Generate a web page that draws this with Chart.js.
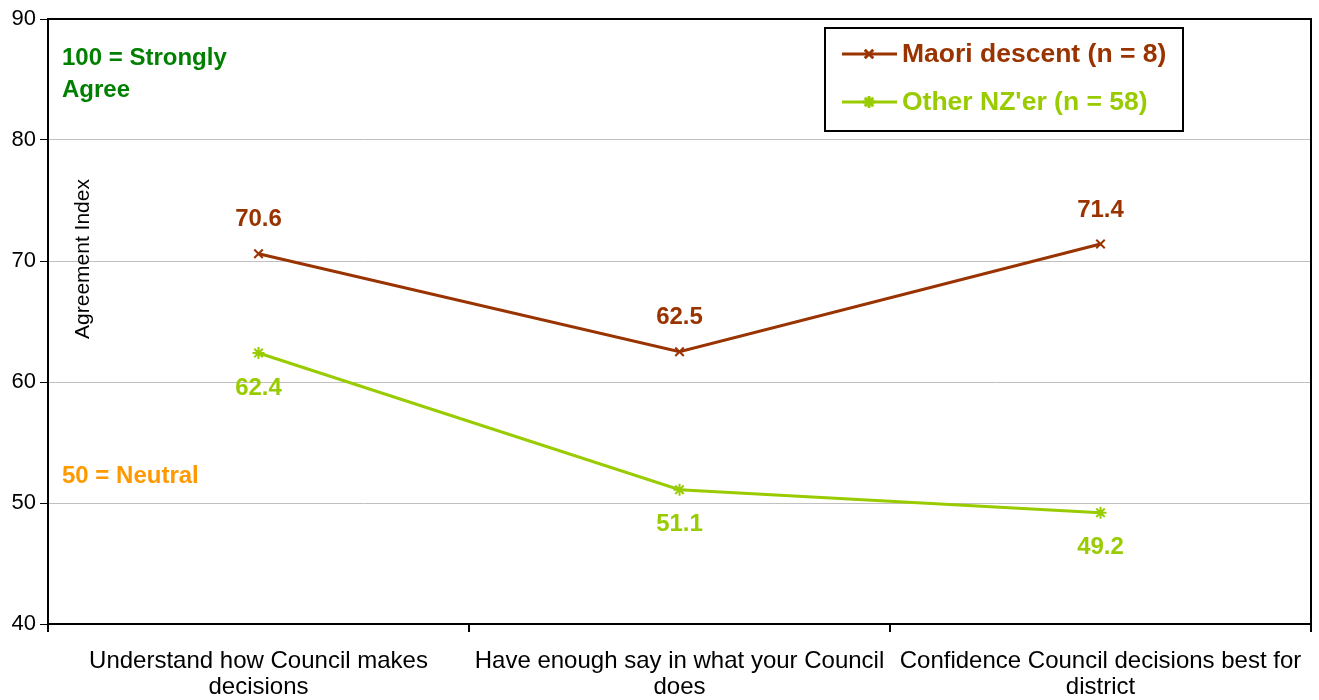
<!DOCTYPE html>
<html>
<head>
<meta charset="utf-8">
<script src="https://cdn.jsdelivr.net/npm/chart.js@4"></script>
<style>
  html, body { margin: 0; padding: 0; background: #fff; }
  #wrap { width: 1319px; height: 700px; }
</style>
</head>
<body>
<div id="wrap"><canvas id="graphAgreement"></canvas></div>
<script>
var categories = [
    ['Understand how Council makes', 'decisions'],
    ['Have enough say in what your Council', 'does'],
    ['Confidence Council decisions best for', 'district']
];
var maoriValues = [70.6, 62.5, 71.4];
var otherValues = [62.4, 51.1, 49.2];
var seriesNames = ['Maori descent (n = 8)', "Other NZ'er (n = 58)"];
var yTicks = [40, 50, 60, 70, 80, 90];

var maoriColor = '#993300';
var otherColor = '#99CC00';
var fontFam = 'Arial, "Liberation Sans", sans-serif';

// frame round the plot area + notes + axis title
var extrasPlugin = {
    id: 'extras',
    afterDraw: function(chart){
        let ctx = chart.ctx;
        let a = chart.chartArea;
        ctx.save();
        ctx.strokeStyle = '#000';
        ctx.lineWidth = 2;
        ctx.strokeRect(a.left, a.top, a.right - a.left, a.bottom - a.top);

        ctx.font = 'bold 24px ' + fontFam;
        ctx.textAlign = 'left';
        ctx.textBaseline = 'middle';
        ctx.fillStyle = '#008000';
        ctx.fillText('100 = Strongly', a.left + 14, 58);
        ctx.fillText('Agree', a.left + 14, 90);
        ctx.fillStyle = '#FF9900';
        ctx.fillText('50 = Neutral', a.left + 14, 476);

        ctx.save();
        ctx.translate(a.left + 35, 259);
        ctx.rotate(-Math.PI / 2);
        ctx.font = '21px ' + fontFam;
        ctx.fillStyle = '#000';
        ctx.textAlign = 'center';
        ctx.fillText('Agreement Index', 0, 0);
        ctx.restore();

        // value labels
        ctx.font = 'bold 24px ' + fontFam;
        ctx.textAlign = 'center';
        chart.data.datasets.forEach(function(ds, i){
            let meta = chart.getDatasetMeta(i);
            meta.data.forEach(function(pt, j){
                ctx.fillStyle = ds.borderColor;
                let dy = i == 0 ? -34 : 35;
                ctx.fillText(ds.data[j].toFixed(1), pt.x, pt.y + dy);
            });
        });

        // legend box
        let lx = 825, ly = 28, lw = 358, lh = 103;
        ctx.fillStyle = '#fff';
        ctx.fillRect(lx, ly, lw, lh);
        ctx.strokeStyle = '#000';
        ctx.lineWidth = 2;
        ctx.strokeRect(lx, ly, lw, lh);
        chart.data.datasets.forEach(function(ds, i){
            let y = i == 0 ? 54 : 102;
            ctx.strokeStyle = ds.borderColor;
            ctx.lineWidth = 3;
            ctx.beginPath();
            ctx.moveTo(842, y);
            ctx.lineTo(897, y);
            ctx.stroke();
            Chart.helpers.drawPoint(ctx, {pointStyle: ds.pointStyle, radius: 6, borderWidth: 2}, 869, y);
            ctx.fillStyle = ds.borderColor;
            ctx.textAlign = 'left';
            ctx.font = 'bold 26.5px ' + fontFam;
            ctx.fillText(ds.label, 902, y + 1);
        });
        ctx.restore();
    }
};

var graphAgreement = new Chart('graphAgreement', {
    type: 'line',
    data: {
        labels: categories,
        datasets: [{
            label: seriesNames[0],
            data: maoriValues,
            borderColor: maoriColor,
            backgroundColor: maoriColor,
            borderWidth: 3,
            pointStyle: 'crossRot',
            pointRadius: 6,
            pointBorderWidth: 2,
            tension: 0
        },{
            label: seriesNames[1],
            data: otherValues,
            borderColor: otherColor,
            backgroundColor: otherColor,
            borderWidth: 3,
            pointStyle: 'star',
            pointRadius: 6,
            pointBorderWidth: 2,
            tension: 0
        }]
    },
    options: {
        responsive: true,
        maintainAspectRatio: false,
        animation: false,
        layout: { padding: { top: 19, right: 4, left: 0, bottom: 0 } },
        plugins: {
            legend: { display: false },
            tooltip: { enabled: false }
        },
        scales: {
            x: {
                offset: true,
                grid: { offset: true, drawOnChartArea: false, drawTicks: true, tickLength: 8, tickColor: '#000', lineWidth: 2 },
                border: { color: '#000', width: 2 },
                ticks: {
                    color: '#000',
                    font: { family: fontFam, size: 24, lineHeight: 1.08 },
                    padding: 16,
                    maxRotation: 0,
                    autoSkip: false
                },
                afterFit: function(scale){
                    scale.height = 76;
                    scale.paddingLeft = 0;
                    scale.paddingRight = 0;
                }
            },
            y: {
                min: 40,
                max: 90,
                afterBuildTicks: function(scale){
                    scale.ticks = yTicks.map(function(v){ return {value: v}; });
                },
                grid: { color: '#c0c0c0', lineWidth: 1, tickLength: 8, tickColor: '#000' },
                border: { color: '#000', width: 2 },
                ticks: {
                    color: '#000',
                    font: { family: fontFam, size: 22 },
                    padding: 4
                },
                afterFit: function(scale){ scale.width = 48; }
            }
        }
    },
    plugins: [extrasPlugin]
});

// nudge the right edge of the plot to x = 1315
for (let k = 0; k < 4; k++) {
    let diff = 1315 - graphAgreement.chartArea.right;
    if (Math.abs(diff) < 0.5) break;
    graphAgreement.options.layout.padding.right -= diff;
    graphAgreement.update();
}
</script>
</body>
</html>
